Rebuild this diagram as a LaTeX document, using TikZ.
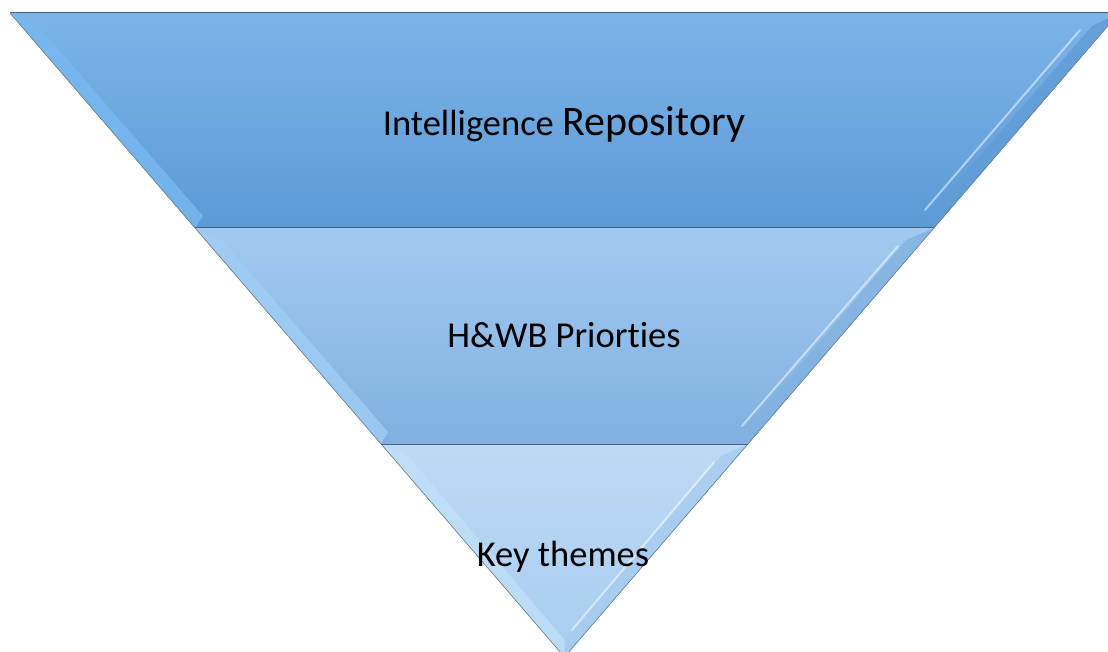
\documentclass[tikz,border=0pt]{standalone}
\usepackage{fontspec}
\setmainfont[Ligatures=NoCommon]{Carlito}
\definecolor{aTop}{RGB}{124,180,232}
\definecolor{aBot}{RGB}{92,154,214}
\definecolor{aBev}{RGB}{120,185,240}
\definecolor{aBevR}{RGB}{96,156,214}
\definecolor{bTop}{RGB}{162,202,240}
\definecolor{bBot}{RGB}{128,176,224}
\definecolor{bBev}{RGB}{160,205,245}
\definecolor{bBevR}{RGB}{130,178,224}
\definecolor{cTop}{RGB}{190,217,244}
\definecolor{cBot}{RGB}{168,205,240}
\definecolor{cBev}{RGB}{192,223,248}
\definecolor{cBevR}{RGB}{166,204,238}
\definecolor{edgeC}{RGB}{70,100,135}
\definecolor{sideC}{RGB}{110,130,150}
\begin{document}
\begin{tikzpicture}[x=1pt,y=-1pt,
  edge/.style={draw=edgeC,line width=1pt},
  side/.style={draw=sideC,line width=0.6pt},
  lbl/.style={text=black,inner sep=0pt,anchor=base,font=\fontsize{36.5}{40}\selectfont},
  hl/.style={draw=white,line width=2pt,opacity=0.5,line cap=round}]
\useasboundingbox (0,0) rectangle (1108,652);
\clip (0,0) rectangle (1108,652);
% top band
\fill[top color=aTop,bottom color=aBot]
  (10,13) -- (1119,13) -- (934,228) -- (195,228) -- cycle;
\fill[aBev,opacity=0.8] (10,13) -- (38,26) -- (203,216) -- (195,228) -- cycle;
\fill[aBevR,opacity=0.8] (1119,13) -- (1092,26) -- (928,216) -- (934,228) -- cycle;
\draw[hl] (1080,30) -- (925,210);
% middle band
\fill[top color=bTop,bottom color=bBot]
  (195,228) -- (934,228) -- (748,444) -- (381,444) -- cycle;
\fill[bBev,opacity=0.8] (195,228) -- (222,240) -- (388,432) -- (381,444) -- cycle;
\fill[bBevR,opacity=0.8] (934,228) -- (906,240) -- (743,432) -- (748,444) -- cycle;
\draw[hl] (898,246) -- (742,426);
% bottom triangle
\fill[top color=cTop,bottom color=cBot]
  (381,444) -- (748,444) -- (564.5,657) -- cycle;
\fill[cBev,opacity=0.8] (381,444) -- (408,456) -- (564.5,640) -- (564.5,657) -- cycle;
\fill[cBevR,opacity=0.8] (748,444) -- (721,456) -- (564.5,640) -- (564.5,657) -- cycle;
\draw[hl] (714,462) -- (572,630);
% outline
\draw[side] (10,13) -- (564.5,657) -- (1119,13);
\draw[edge] (10,13) -- (1119,13);
\draw[edge] (195,228) -- (934,228);
\draw[edge] (381,444) -- (748,444);
% labels
\node[lbl] (t1) at (564,136) {Intelligence {\fontsize{42}{46}\selectfont Repository}};
\node[lbl] (t2) at (564,347) {H\&WB Priorties};
\node[lbl] (t3) at (563,566) {Key themes};
\end{tikzpicture}
\end{document}
